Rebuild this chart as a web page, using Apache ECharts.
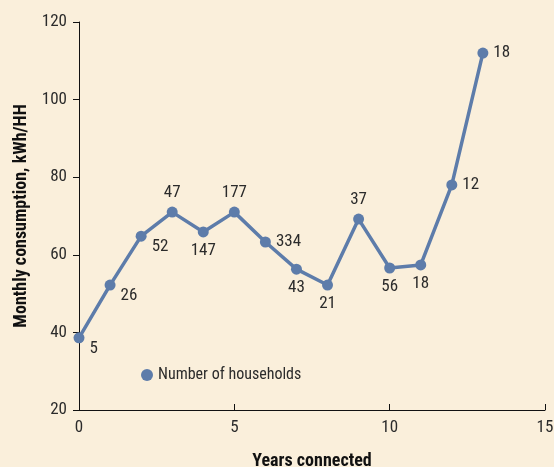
<!DOCTYPE html>
<html>
<head>
<meta charset="utf-8">
<script src="https://cdn.jsdelivr.net/npm/echarts@6/dist/echarts.min.js"></script>
<style>
  html, body { margin: 0; padding: 0; background: #faefdb; }
  #main { width: 554px; height: 467px; }
</style>
</head>
<body>
<div id="main"></div>
<script>
// years connected, consumption and number of households
var years = [0, 1, 2, 3, 4, 5, 6, 7, 8, 9, 10, 11, 12, 13];
var consumption = [38.6, 52.2, 64.8, 71, 65.9, 71, 63.3, 56.3, 52.2, 69.2, 56.6, 57.4, 78, 112];
var households = [5, 26, 52, 47, 147, 177, 334, 43, 21, 37, 56, 18, 12, 18];
// where each count label sits
var labelPos = ['br', 'br', 'br', 'top', 'bottom', 'top', 'right', 'bottom', 'bottom', 'top', 'bottom', 'bottom', 'right', 'right'];

var font = '"Liberation Sans Narrow", "Roboto Condensed", "Liberation Sans", sans-serif';
var blue = '#5d7caa';

var myChart = echarts.init(document.getElementById('main'));

var seriesData = years.map(function (x, i) {
  var p = labelPos[i];
  var lbl = { position: p };
  if (p === 'br') {
    lbl = { position: 'right', offset: [0, 11] };
  }
  return { value: [x, consumption[i]], label: lbl, households: households[i] };
});

var option = {
  backgroundColor: '#faefdb',
  animation: false,
  grid: { left: 79, right: 9, top: 22, bottom: 57, outerBoundsMode: 'none', containLabel: false },
  legend: {
    left: 136, top: 362,
    icon: 'circle',
    itemWidth: 12, itemHeight: 12, itemGap: 3,
    textStyle: { fontFamily: font, fontSize: 16, color: '#2b2b2b' },
    data: ['Number of households']
  },
  xAxis: {
    type: 'value',
    min: 0, max: 15, interval: 5,
    name: 'Years connected',
    nameLocation: 'middle',
    nameGap: 42,
    nameTextStyle: { fontFamily: font, fontSize: 18, fontWeight: 'bold', color: '#111' },
    axisLine: { show: true, lineStyle: { color: '#111', width: 1 } },
    axisTick: { show: true, inside: true, length: 6, lineStyle: { color: '#111' } },
    axisLabel: { fontFamily: font, fontSize: 17, color: '#2b2b2b', margin: 9 },
    splitLine: { show: false }
  },
  yAxis: {
    type: 'value',
    min: 20, max: 120, interval: 20,
    name: 'Monthly consumption, kWh/HH',
    nameLocation: 'middle',
    nameGap: 49,
    nameTextStyle: { fontFamily: font, fontSize: 18, fontWeight: 'bold', color: '#111' },
    axisLine: { show: true, lineStyle: { color: '#111', width: 1 } },
    axisTick: { show: true, length: 6, lineStyle: { color: '#111' } },
    axisLabel: { fontFamily: font, fontSize: 17, color: '#2b2b2b', margin: 12 },
    splitLine: { show: false }
  },
  series: [
    {
      name: 'Number of households',
      type: 'line',
      data: seriesData,
      symbol: 'circle',
      symbolSize: 11,
      lineStyle: { color: blue, width: 3.5 },
      itemStyle: { color: blue },
      label: {
        show: true,
        fontFamily: font,
        fontSize: 17,
        color: '#2b2b2b',
        distance: 5,
        formatter: function (p) { return p.data.households; }
      }
    }
  ]
};

myChart.setOption(option);
</script>
</body>
</html>
